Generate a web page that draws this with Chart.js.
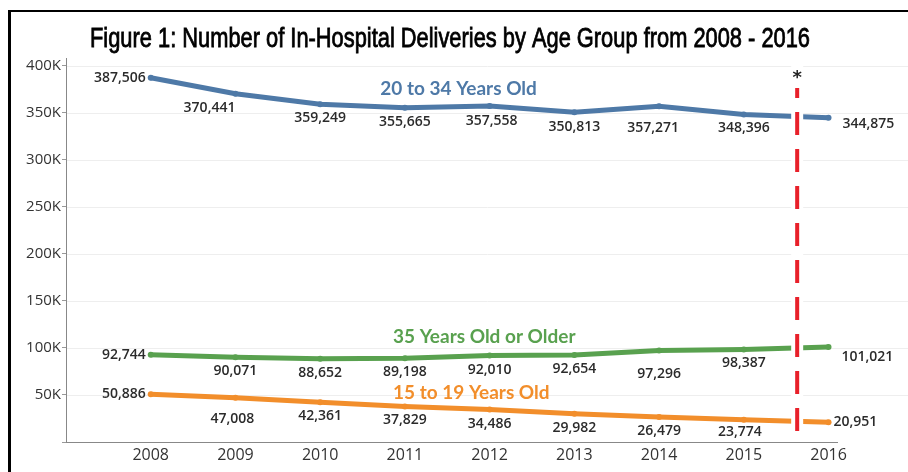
<!DOCTYPE html>
<html>
<head>
<meta charset="utf-8">
<script src="https://cdn.jsdelivr.net/npm/chart.js@4.4.1/dist/chart.umd.min.js"></script>
<style>
  html, body { margin: 0; padding: 0; background: #fff; }
  #wrap { width: 908px; height: 472px; position: relative; }
</style>
</head>
<body>
<div id="wrap"><canvas id="grafico" width="908" height="472"></canvas></div>
<script>
const titulo = "Figure 1: Number of In-Hospital Deliveries by Age Group from 2008 - 2016";

const anos = [2008, 2009, 2010, 2011, 2012, 2013, 2014, 2015, 2016];
const idade20a34 = [387506, 370441, 359249, 355665, 357558, 350813, 357271, 348396, 344875];
const idade35mais = [92744, 90071, 88652, 89198, 92010, 92654, 97296, 98387, 101021];
const idade15a19 = [50886, 47008, 42361, 37829, 34486, 29982, 26479, 23774, 20951];

const ticksY = [0, 50000, 100000, 150000, 200000, 250000, 300000, 350000, 400000];

const nomesSeries = ["20 to 34 Years Old", "35 Years Old or Older", "15 to 19 Years Old"];
const coresSeries = ["#4e79a7", "#59a14f", "#f28e2b"];

// year where the red dashed marker sits (between 2015 and 2016)
const anoMarcador = 2015.63;

// where the series names are written, in data units [x, y]
const posNomes = [[2010.71, 375500], [2010.86, 112200], [2010.86, 52100]];

// label placement per point: [dx, dy, align]
const L = "right", C = "center", R = "left";
const posRotulos = [
  [[-5, 0, L], [0, 14, L], [0, 14, C], [0, 14, C], [2, 15, C], [0, 15, C], [-6, 22, C], [0, 14, C], [14, 6, R]],
  [[-5, 0, L], [0, 14, C], [0, 14, C], [0, 14, C], [0, 15, C], [0, 14, C], [0, 23, C], [0, 14, C], [13, 10, R]],
  [[-5, 0, L], [-3, 21, C], [0, 14, C], [0, 14, C], [0, 14, C], [0, 14, C], [0, 14, C], [-4, 12, C], [5, 0, R]]
];

const valoresSeries = [idade20a34, idade35mais, idade15a19];

function pontos(valores) {
  return anos.map((a, i) => ({ x: a, y: valores[i] }));
}

function formatar(n) {
  return n.toLocaleString("en-US");
}

const pluginDesenho = {
  id: "desenho",
  beforeDraw(chart) {
    const ctx = chart.ctx;
    ctx.save();
    ctx.fillStyle = "#fff";
    ctx.fillRect(0, 0, chart.width, chart.height);
    // outer frame (left + top)
    ctx.fillStyle = "#000";
    ctx.fillRect(8, 10, 3, chart.height - 10);
    ctx.fillRect(8, 10, chart.width - 8, 2);
    // title, squeezed like a narrow face
    ctx.font = "27px 'Liberation Sans', Arial";
    ctx.textAlign = "center";
    ctx.textBaseline = "middle";
    const larg = ctx.measureText(titulo).width;
    const esc = 720 / larg;
    ctx.translate(450, 40);
    ctx.scale(esc, 1);
    ctx.strokeStyle = "#000";
    ctx.lineWidth = 0.8;
    ctx.fillText(titulo, 0, 0);
    ctx.strokeText(titulo, 0, 0);
    ctx.restore();
  },
  beforeDatasetsDraw(chart) {
    const ctx = chart.ctx;
    const y = chart.scales.y;
    ctx.save();
    ctx.strokeStyle = "#eeeeee";
    ctx.lineWidth = 1;
    y.ticks.forEach((t) => {
      if (t.value === 0) return;
      const py = Math.round(y.getPixelForValue(t.value)) + 0.5;
      ctx.beginPath();
      ctx.moveTo(chart.chartArea.left + 1, py);
      ctx.lineTo(chart.width, py);
      ctx.stroke();
    });
    ctx.restore();
  },
  afterDatasetsDraw(chart) {
    const ctx = chart.ctx;
    const area = chart.chartArea;
    const xs = chart.scales.x;
    const mx = xs.getPixelForValue(anoMarcador);
    ctx.save();
    // white gap behind the marker
    ctx.fillStyle = "#fff";
    ctx.fillRect(mx - 6, area.top, 12, area.bottom - area.top - 1);
    // red dashed marker
    ctx.strokeStyle = "#e8202a";
    ctx.lineWidth = 4;
    ctx.setLineDash([23, 14]);
    ctx.lineDashOffset = 13;
    ctx.beginPath();
    ctx.moveTo(mx, 88);
    ctx.lineTo(mx, area.bottom - 8);
    ctx.stroke();
    ctx.setLineDash([]);
    ctx.fillStyle = "#222";
    ctx.font = "bold 18px 'DejaVu Sans'";
    ctx.textAlign = "center";
    ctx.textBaseline = "middle";
    ctx.fillText("*", mx, 78);

    // value labels
    ctx.font = "600 14px 'Open Sans'";
    ctx.fillStyle = "#2b2b2b";
    chart.data.datasets.forEach((ds, i) => {
      const meta = chart.getDatasetMeta(i);
      meta.data.forEach((p, j) => {
        const [dx, dy, al] = posRotulos[i][j];
        ctx.textAlign = al;
        ctx.fillText(formatar(valoresSeries[i][j]), p.x + dx, p.y + dy);
      });
    });

    // series names
    ctx.font = "bold 19px Lato";
    ctx.textAlign = "left";
    nomesSeries.forEach((nome, i) => {
      ctx.fillStyle = coresSeries[i];
      ctx.fillText(nome, xs.getPixelForValue(posNomes[i][0]), chart.scales.y.getPixelForValue(posNomes[i][1]));
    });
    ctx.restore();
  }
};

const grafico = new Chart(document.getElementById("grafico"), {
  type: "line",
  data: {
    datasets: valoresSeries.map((v, i) => ({
      label: nomesSeries[i],
      data: pontos(v),
      borderColor: coresSeries[i],
      backgroundColor: coresSeries[i],
      borderWidth: 5,
      pointRadius: 3,
      pointBorderWidth: 0,
      pointHoverRadius: 3,
      tension: 0,
    })),
  },
  options: {
    responsive: false,
    animation: false,
    layout: { padding: { left: 10, right: 71, top: 58, bottom: 0 } },
    plugins: {
      legend: { display: false },
      tooltip: { enabled: false },
    },
    scales: {
      x: {
        type: "linear",
        min: 2007,
        max: 2016.1,
        afterFit: (s) => { s.height = 30; },
        afterBuildTicks: (s) => { s.ticks = anos.map((a) => ({ value: a })); },
        ticks: {
          padding: 4,
          color: "#333",
          font: { family: "'Open Sans'", size: 16 },
          callback: (v) => String(v),
        },
        grid: { display: false, drawTicks: false },
        border: { display: true, color: "#888", width: 1 },
      },
      y: {
        min: 0,
        max: 408500,
        afterFit: (s) => { s.width = 56; },
        afterBuildTicks: (s) => { s.ticks = ticksY.map((v) => ({ value: v })); },
        ticks: {
          padding: 1,
          color: "#333",
          font: { family: "'Open Sans'", size: 15 },
          callback: (v) => (v === 0 ? "" : v / 1000 + "K"),
        },
        grid: { drawOnChartArea: false, tickLength: 4, color: "#999" },
        border: { display: true, color: "#888", width: 1 },
      },
    },
  },
  plugins: [pluginDesenho],
});
</script>
</body>
</html>
